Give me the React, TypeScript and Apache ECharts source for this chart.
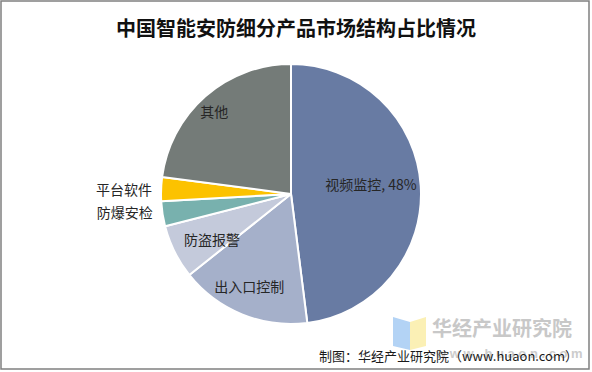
import React, { useEffect, useRef } from "react";
import * as echarts from "echarts";

const categories = ["视频监控", "出入口控制", "防盗报警", "防爆安检", "平台软件", "其他"];
const values = [48, 16.3, 6.7, 3.1, 3.0, 22.9];
const colors = ["#687ba3", "#a5b0ca", "#c4cadb", "#78b1ae", "#fcc200", "#747b78"];
const labelOffsets: [number, number][] = [
  [12, -6],
  [-16, 29],
  [-18, 15],
  [-99, 8],
  [-99, -2],
  [-32, -32],
];

export default function App() {
  const ref = useRef<HTMLDivElement>(null);
  useEffect(() => {
    document.body.style.margin = "0";
    const chart = echarts.init(ref.current!, undefined, { renderer: "svg" });
    const font = "'Noto Sans CJK SC', 'Microsoft YaHei', sans-serif";
    chart.setOption({
      animation: false,
      backgroundColor: "#ffffff",
      title: {
        text: "中国智能安防细分产品市场结构占比情况",
        left: "center",
        top: 12,
        textStyle: { fontSize: 20, fontWeight: "bold", color: "#111111", fontFamily: font },
      },
      graphic: [
        {
          type: "rect",
          shape: { x: 1, y: 1, width: 588, height: 368 },
          style: { fill: "none", stroke: "#808080", lineWidth: 1.5 },
          silent: true,
        },
        {
          type: "polygon",
          shape: { points: [[393, 317], [410, 322], [410, 350], [393, 346]] },
          style: { fill: "#b3d3f5" },
        },
        {
          type: "polygon",
          shape: { points: [[410, 322], [426, 317], [426, 346], [410, 350]] },
          style: { fill: "#fbf0b5" },
        },
        {
          type: "text",
          x: 432,
          y: 327,
          style: {
            text: "华经产业研究院",
            fontSize: 20,
            fontWeight: "bold",
            fill: "#c8c8c8",
            fontFamily: font,
            verticalAlign: "middle",
          },
        },
        {
          type: "text",
          x: 436,
          y: 353,
          style: {
            text: "w w w . h u a o n . c o m",
            fontSize: 13,
            fontWeight: "bold",
            fill: "#cccccc",
            fontFamily: "Arial, 'Liberation Sans', sans-serif",
            verticalAlign: "middle",
          },
        },
        {
          type: "text",
          x: 578,
          y: 355,
          style: {
            text: "制图：华经产业研究院（www.huaon.com）",
            fontSize: 13,
            fill: "#1a1a1a",
            fontFamily: font,
            align: "right",
            verticalAlign: "middle",
          },
        },
      ],
      series: [
        {
          type: "pie",
          center: [291, 194],
          radius: [0, 130],
          startAngle: 90,
          clockwise: true,
          avoidLabelOverlap: false,
          itemStyle: { borderColor: "#ffffff", borderWidth: 2 },
          label: {
            show: true,
            position: "inside",
            fontSize: 14,
            color: "#262626",
            fontFamily: font,
            formatter: (p: any) => (p.dataIndex === 0 ? `${p.name}, ${Math.round(p.value)}%` : p.name),
          },
          labelLine: { show: false },
          labelLayout: (p: any) => ({ dx: labelOffsets[p.dataIndex][0], dy: labelOffsets[p.dataIndex][1] }),
          data: categories.map((name, i) => ({ name, value: values[i], itemStyle: { color: colors[i] } })),
        },
      ],
    });
    return () => chart.dispose();
  }, []);
  return <div ref={ref} style={{ width: 592, height: 372 }} />;
}
